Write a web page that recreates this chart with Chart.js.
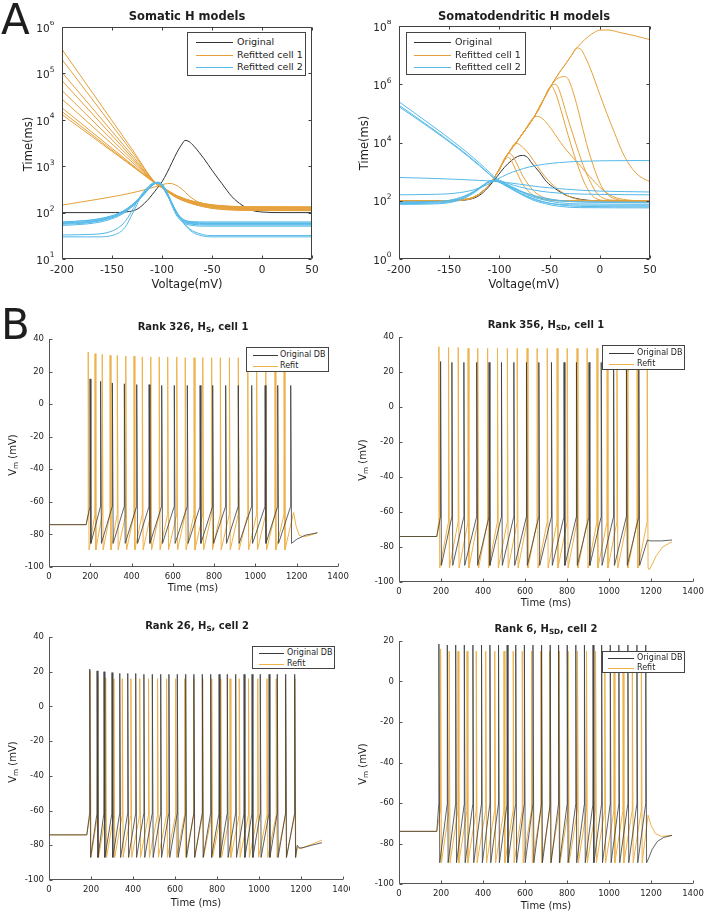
<!DOCTYPE html>
<html>
<head>
<meta charset="utf-8">
<script src="https://cdn.jsdelivr.net/npm/chart.js@4.4.0/dist/chart.umd.min.js"></script>
<style>
  body { margin: 0; background: #fff; }
  #page { position: relative; width: 710px; height: 918px; overflow: hidden;
          font-family: "DejaVu Sans", sans-serif; color: #1e1e1e; background: #fff; }
  canvas { position: absolute; }
  .t { position: absolute; white-space: nowrap; transform: translate(-50%, -50%); line-height: 1; }
  .rot { transform: translate(-50%, -50%) rotate(-90deg); }
  .b { font-weight: bold; }
  .letter { position: absolute; font-size: 42px; line-height: 1; }
  sub { font-size: 0.72em; vertical-align: -0.3em; line-height: 0; }
  .leg { position: absolute; border: 1px solid #444; background: #fff; box-sizing: border-box; }
  .leg div { position: absolute; white-space: nowrap; transform: translateY(-50%); line-height: 1; }
  .leg span { position: absolute; height: 0; }
</style>
</head>
<body>
<div id="page"></div>
<script>
// ---------- A: time constants (ms) vs voltage (mV) ----------
const voltTicks = [-200, -150, -100, -50, 0, 50];
const somaticDecades = [1e1, 1e2, 1e3, 1e4, 1e5, 1e6];
const sdDecades = [1e0, 1e2, 1e4, 1e6, 1e8];
const seriesNamesA = ["Original", "Refitted cell 1", "Refitted cell 2"];

const somaticOriginal = [[-200,100],[-150,100],[-135,104],[-125,118],[-115,180],[-105,330],[-100,460],[-95,720],[-90,1200],[-85,2000],[-80,3000],[-77,3600],[-73,3400],[-68,2700],[-63,2000],[-58,1450],[-50,820],[-40,420],[-30,220],[-20,145],[-10,112],[0,103],[20,100],[50,100]];

const somaticCell1 = [
  [[-200,3.3e5],[-130,2330],[-106,430],[-100,360],[-92,280],[-85,232],[-75,192],[-65,168],[-50,148],[-35,139],[-15,133],[50,132]],
  [[-200,2.0e5],[-130,2050],[-106,430],[-100,355],[-92,275],[-85,226],[-75,188],[-65,162],[-50,141],[-35,132],[-15,127],[50,126]],
  [[-200,1.05e5],[-130,1740],[-106,425],[-100,350],[-92,268],[-85,220],[-75,182],[-65,157],[-50,135],[-35,126],[-15,121],[50,120]],
  [[-200,7.0e4],[-130,1550],[-106,420],[-100,345],[-92,262],[-85,214],[-75,176],[-65,151],[-50,130],[-35,121],[-15,116],[50,115]],
  [[-200,4.3e4],[-130,1390],[-106,430],[-100,350],[-92,262],[-85,210],[-75,171],[-65,146],[-50,126],[-35,117],[-15,113],[50,112]],
  [[-200,2.8e4],[-130,1230],[-106,425],[-100,360],[-92,280],[-85,230],[-75,190],[-65,166],[-50,145],[-35,136],[-15,131],[50,130]],
  [[-200,1.8e4],[-130,1090],[-106,420],[-100,350],[-92,268],[-85,218],[-75,179],[-65,154],[-50,133],[-35,124],[-15,119],[50,118]],
  [[-200,1.5e4],[-130,1035],[-106,415],[-100,340],[-92,256],[-85,206],[-75,168],[-65,144],[-50,123],[-35,115],[-15,111],[50,110]],
  [[-200,1.3e4],[-130,1010],[-106,420],[-100,355],[-92,272],[-85,224],[-75,184],[-65,159],[-50,138],[-35,129],[-15,125],[50,124]],
  [[-200,145],[-170,185],[-140,240],[-120,300],[-105,370],[-97,415],[-92,425],[-87,400],[-80,320],[-73,230],[-65,175],[-55,150],[-40,138],[-20,133],[50,132]]
];

const somaticCell2 = [
  [[-200,63],[-175,68],[-155,80],[-140,105],[-128,160],[-118,260],[-110,390],[-104,445],[-99,380],[-94,240],[-89,140],[-84,90],[-78,70],[-70,64],[-55,63],[50,63]],
  [[-200,60],[-175,64],[-155,76],[-140,100],[-128,150],[-118,250],[-110,380],[-104,440],[-99,370],[-94,230],[-89,132],[-84,85],[-78,66],[-70,60],[-55,58],[50,58]],
  [[-200,56],[-175,60],[-155,72],[-140,96],[-128,150],[-118,255],[-110,390],[-104,450],[-99,385],[-94,245],[-89,135],[-84,84],[-78,64],[-70,58],[-55,56],[50,56]],
  [[-200,53],[-175,57],[-155,68],[-140,92],[-128,145],[-118,245],[-110,375],[-105,430],[-100,390],[-95,260],[-90,150],[-85,92],[-78,64],[-70,56],[-55,54],[50,54]],
  [[-200,58],[-175,62],[-155,74],[-140,98],[-128,152],[-118,258],[-110,395],[-105,440],[-100,395],[-95,255],[-90,140],[-85,84],[-78,60],[-70,53],[-55,51],[50,51]],
  [[-200,62],[-175,67],[-155,79],[-140,104],[-128,158],[-118,262],[-110,400],[-104,450],[-99,390],[-94,250],[-89,145],[-84,92],[-78,70],[-70,62],[-55,60],[50,60]],
  [[-200,33],[-170,34],[-150,40],[-138,60],[-130,110],[-122,220],[-114,360],[-107,450],[-102,410],[-96,260],[-89,140],[-81,72],[-72,44],[-62,35],[-52,32],[50,32]],
  [[-200,30],[-165,30],[-148,33],[-137,48],[-129,100],[-121,220],[-113,365],[-106,440],[-101,400],[-95,250],[-88,130],[-80,66],[-71,40],[-61,32],[-50,30],[50,30]]
];

const sdOriginal = [[-200,100],[-150,100],[-135,105],[-125,125],[-118,170],[-110,320],[-102,700],[-95,1400],[-88,2400],[-82,3300],[-77,3600],[-72,3100],[-68,2000],[-60,950],[-53,450],[-45,270],[-36,170],[-25,123],[-12,104],[0,100],[50,100]];

// shared rising flank of the refitted cell 1 curves, then each curve's own fall
const sdCell1Rise = [[-200,100],[-160,100],[-140,106],[-130,118],[-125,135],[-120,170],[-115,240],[-110,360],[-105,640],[-100,1200],[-94,3000],[-85,8300],[-75,2.5e4],[-66,7e4],[-57,2.6e5],[-48,9.5e5],[-40,2.6e6],[-34,5e6],[-28,1e7],[-23,1.75e7],[-15,3.4e7],[-8,5.3e7]];
const sdCell1Peel = [-100, -100, -94, -75, -66, -57, -48, -28, -8];
const sdCell1Fall = [
  [[-96,2100],[-93,2900],[-91,3100],[-89,2700],[-86,1700],[-82,850],[-77,380],[-70,195],[-62,130],[-53,107],[-40,99],[50,96]],
  [[-95,2800],[-92,3900],[-90,4200],[-87,3500],[-83,2000],[-79,1000],[-74,500],[-67,240],[-59,145],[-50,112],[-38,102],[50,99]],
  [[-89,5600],[-86,8300],[-84,9300],[-81,8900],[-76,6500],[-70,3800],[-62,1500],[-55,700],[-46,330],[-36,180],[-27,125],[-18,106],[0,98],[50,96]],
  [[-70,4.8e4],[-66,7.2e4],[-63,7.9e4],[-59,7.3e4],[-54,5.2e4],[-48,2.8e4],[-36,7200],[-22,2000],[-10,680],[0,290],[13,140],[27,107],[50,98]],
  [[-60,1.5e5],[-55,3.5e5],[-52,6e5],[-50,7.8e5],[-48,8.5e5],[-46,7e5],[-43,4e5],[-39,1.4e5],[-34,3.5e4],[-29,9000],[-24,2600],[-19,850],[-14,330],[-9,170],[-4,120],[5,102],[50,97]],
  [[-51,6.5e5],[-48,9e5],[-45,1.0e6],[-42,8.5e5],[-38,3.5e5],[-33,9e4],[-27,2e4],[-21,4500],[-15,1200],[-9,420],[-4,200],[2,130],[12,105],[50,98]],
  [[-44,1.4e6],[-39,1.75e6],[-35,1.85e6],[-31,1.4e6],[-27,6e5],[-22,1.5e5],[-17,3e4],[-12,6500],[-7,1800],[-2,600],[3,260],[9,150],[18,108],[30,100],[50,98]],
  [[-23,1.75e7],[-19,1.6e7],[-14,8e6],[-8,2.6e6],[0,4.5e5],[7,1e5],[15,2e4],[23,4300],[32,1300],[40,680],[50,450]],
  [[0,7.2e7],[8,7.3e7],[20,6e7],[35,4.6e7],[50,3.4e7]]
];

const sdCell2 = [
  [[-200,2.5e5],[-170,4.5e4],[-140,7500],[-120,2000],[-110,950],[-102,560],[-92,400],[-80,300],[-65,230],[-50,195],[-30,175],[0,165],[50,160]],
  [[-200,1.9e5],[-170,3.6e4],[-140,6200],[-120,1700],[-110,820],[-102,500],[-92,330],[-80,220],[-65,150],[-50,115],[-30,95],[0,88],[50,86]],
  [[-200,1.7e5],[-170,3.3e4],[-140,5800],[-120,1600],[-110,800],[-102,480],[-92,300],[-80,180],[-65,110],[-50,82],[-30,72],[0,70],[50,70]],
  [[-200,80],[-170,82],[-150,92],[-135,130],[-125,200],[-116,330],[-108,480],[-102,470],[-95,380],[-88,280],[-78,180],[-68,125],[-55,90],[-40,72],[-20,64],[50,62]],
  [[-200,86],[-170,88],[-150,98],[-135,138],[-125,210],[-116,340],[-108,470],[-102,465],[-95,390],[-88,300],[-78,200],[-68,140],[-55,105],[-40,85],[-20,78],[50,76]],
  [[-200,75],[-170,77],[-150,86],[-135,122],[-125,190],[-116,320],[-108,460],[-102,450],[-95,360],[-88,260],[-78,165],[-68,110],[-55,80],[-40,64],[-20,58],[50,57]],
  [[-200,92],[-170,94],[-150,104],[-135,145],[-125,215],[-116,350],[-108,500],[-102,490],[-95,400],[-88,310],[-78,210],[-68,150],[-55,115],[-40,98],[-20,92],[50,90]],
  [[-200,160],[-170,165],[-145,180],[-125,240],[-112,360],[-102,550],[-92,820],[-82,1100],[-70,1450],[-55,1800],[-40,2050],[-20,2250],[0,2350],[50,2400]],
  [[-200,630],[-170,590],[-140,540],[-120,500],[-100,450],[-80,370],[-60,300],[-40,260],[-20,230],[0,215],[50,200]]
];

// ---------- B: membrane potential traces ----------
const timeTicks = [0, 200, 400, 600, 800, 1000, 1200, 1400];
const vmTicks40 = [-100, -80, -60, -40, -20, 0, 20, 40];
const vmTicks20 = [-100, -80, -60, -40, -20, 0, 20];
const seriesNamesB = ["Original DB", "Refit"];
const restPotential = -74;
const stimulus = [180, 1180];

// spike times (ms), spike peaks (mV), [trough, threshold] (mV), after-stimulus points
const b1OrigTimes = [199,250,307,365,425,485,546,607,670,732,793,856,917,982,1047,1108,1171];
const b1OrigPeaks = [15.5,14,13,12.5,12,12,11.5,11.5,11.5,11.5,11.5,11.5,11.5,11.5,11.5,11.5,11.5];
const b1OrigLevels = [-85.5, -63];
const b1OrigTail = [[1200,-83],[1240,-80.5],[1300,-79]];
const b1FitTimes = [190,223,258,296,331,372,412,452,493,534,575,619,660,703,745,788,830,874,917,963,1006,1050,1095,1139];
const b1FitPeaks = [32,31,30.5,30,30,29.5,29.5,29,29,29,29,29,28.5,28.5,28.5,28.5,28.5,28.5,28.5,29,29,29,29,29];
const b1FitLevels = [-89.5, -68];
const b1FitTail = [[1185,-66.5],[1197,-75],[1212,-80.5],[1232,-81.5],[1265,-80.5],[1300,-79]];

const b2OrigTimes = [198,252,309,370,429,488,547,607,666,726,786,845,905,963,1022,1083,1142];
const b2OrigPeaks = [26,25.5,25.5,25.5,25.5,25.5,25.5,25.5,25.5,25.5,25.5,25.5,25.5,25.5,25.5,25.5,25.5];
const b2OrigLevels = [-90.5, -63];
const b2OrigTail = [[1183,-76],[1195,-76.5],[1250,-76.5],[1300,-76]];
const b2FitTimes = [190,236,282,329,375,422,469,516,563,610,658,706,753,801,848,896,943,991,1038,1086,1134,1182];
const b2FitPeaks = [34.5,34,34,33.5,33.5,33.5,33.5,33.5,33.5,33.5,33.5,33.5,33.5,33.5,33.5,33.5,33.5,33.5,33.5,33.5,33.5,33.5];
const b2FitLevels = [-92, -66];
const b2FitTail = [[1192,-93],[1205,-90],[1225,-85],[1255,-80],[1300,-77]];

const b3OrigTimes = [194,229,262,300,337,375,413,452,492,532,571,611,651,690,730,770,810,849,889,929,967,1006,1048,1087,1127,1170];
const b3OrigPeaks = [21.5,20.5,20,19.5,19,19,19,18.5,18.5,18.5,18.5,18.5,18.5,18.5,18.5,18.5,18.5,18.5,18.5,18.5,18.5,18.5,18.5,18.5,18.5,18.5];
const b3OrigLevels = [-87, -62];
const b3OrigTail = [[1182,-80],[1192,-81.5],[1205,-81.5],[1250,-80],[1300,-78.5]];
const b3FitTimes = [196,232,270,309,349,390,432,474,517,560,603,646,689,732,775,818,862,906,950,994,1038,1082,1126,1171];
const b3FitPeaks = [20.5,17,16.5,16,16,16,16,16,16,16,16,16,16,16,16,16,16,16,16,16,16,16,16,16];
const b3FitLevels = [-87, -63];
const b3FitTail = [[1183,-81],[1195,-82],[1240,-80],[1300,-77]];

const b4OrigTimes = [190,230,270,311,352,393,433,474,515,556,597,638,679,720,760,801,842,883,924,965,1006,1047,1090,1133,1175];
const b4OrigPeaks = [18.5,18,18,18,18,18,18,18,18,18,18,18,18,18,18,18,18,18,18,18,18,18,18,18,18];
const b4OrigLevels = [-89.5, -61];
const b4OrigTail = [[1190,-87],[1205,-83],[1230,-79],[1260,-77],[1300,-76]];
const b4FitTimes = [198,239,281,324,368,413,456,500,544,587,631,675,718,763,806,850,893,936,980,1024,1067,1111,1154];
const b4FitPeaks = [16,15,15,15,15,15,15,15,15,15,15,15,15,15,15,15,15,15,15,15,15,15,15];
const b4FitLevels = [-89.5, -64];
const b4FitTail = [[1186,-66],[1200,-71],[1220,-75],[1250,-76.5],[1300,-76]];

// ---------- drawing ----------
const page = document.getElementById("page");
Chart.defaults.font.family = '"DejaVu Sans", sans-serif';

const BLACK = "#333333", ORANGE = "#E5A03A", BLUE = "#55B9E8";
const ORANGE_B = "#EDB24A", BLACK_B = "#3a3a3a";

// axis lines, inward ticks and 10^n labels, MATLAB style
const frame = {
  id: "frame",
  afterDatasetsDraw(chart, args, o) {
    if (!o || !o.on) return;
    const { ctx, chartArea: a, scales: { x, y } } = chart;
    const L = Math.round(a.left) + 0.5, B = Math.round(a.bottom) - 0.5;
    const R = Math.round(a.right) - 0.5, T = Math.round(a.top) + 0.5;
    ctx.save();
    ctx.strokeStyle = o.color;
    ctx.lineWidth = 1;
    ctx.beginPath();
    ctx.moveTo(L, o.box ? T : a.top); ctx.lineTo(L, B); ctx.lineTo(o.box ? R : a.right, B);
    if (o.box) { ctx.moveTo(L, T); ctx.lineTo(R, T); ctx.lineTo(R, B); }
    x.ticks.forEach(t => {
      const px = Math.round(x.getPixelForValue(t.value)) + 0.5;
      ctx.moveTo(px, B); ctx.lineTo(px, B - o.len);
      if (o.box) { ctx.moveTo(px, T); ctx.lineTo(px, T + o.len); }
    });
    y.ticks.forEach(t => {
      const py = Math.round(y.getPixelForValue(t.value)) + 0.5;
      ctx.moveTo(L, py); ctx.lineTo(L + o.len, py);
      if (o.box) { ctx.moveTo(R, py); ctx.lineTo(R - o.len, py); }
    });
    ctx.stroke();
    if (o.logLabels) {
      ctx.fillStyle = "#262626";
      ctx.textAlign = "right";
      ctx.textBaseline = "middle";
      y.ticks.forEach(t => {
        const py = y.getPixelForValue(t.value);
        const e = String(Math.round(Math.log10(t.value)));
        ctx.font = '7.5px "DejaVu Sans"';
        const ew = ctx.measureText(e).width;
        const xr = a.left - 7.5;
        ctx.fillText(e, xr, py - 3.5);
        ctx.font = '10.5px "DejaVu Sans"';
        ctx.fillText("10", xr - ew, py + 2);
      });
    }
    ctx.restore();
  }
};
Chart.register(frame);

function pts(list) { return list.map(([x, y]) => ({ x, y })); }

function spikeTrace(times, peaks, levels, tail) {
  const [trough, thr] = levels;
  const out = [{ x: 0, y: restPotential }, { x: stimulus[0], y: restPotential }];
  times.forEach((t, i) => {
    out.push({ x: t - 1, y: thr }, { x: t, y: peaks[i] }, { x: t + 4, y: trough });
  });
  tail.forEach(([x, y]) => out.push({ x, y }));
  return out;
}

function line(data, color, width, order, smooth) {
  return {
    data, borderColor: color, borderWidth: width, pointRadius: 0, fill: false, order,
    tension: 0, cubicInterpolationMode: smooth ? "monotone" : "default"
  };
}

function axis(type, min, max, values, size, gap, fixed, isX) {
  return {
    type, min, max,
    afterBuildTicks: s => { s.ticks = values.map(value => ({ value })); },
    ticks: { display: type !== "logarithmic", autoSkip: false, maxRotation: 0, minRotation: 0,
             padding: gap, color: "#262626", font: { size }, callback: v => String(v) },
    grid: { display: false, drawTicks: false },
    border: { display: false },
    afterFit: s => {
      if (isX) s.height = fixed; else s.width = fixed;
      s.paddingLeft = 0; s.paddingRight = 0; s.paddingTop = 0; s.paddingBottom = 0;
    }
  };
}

function plot(box, m, xAxis, yAxis, datasets, frameOpts) {
  const c = document.createElement("canvas");
  const w = box.r - box.l + m.l + m.r, h = box.b - box.t + m.t + m.b;
  c.width = w; c.height = h;
  c.style.left = (box.l - m.l) + "px"; c.style.top = (box.t - m.t) + "px";
  c.style.width = w + "px"; c.style.height = h + "px";
  page.appendChild(c);
  new Chart(c, {
    type: "line",
    data: { datasets },
    options: {
      responsive: false, animation: false, devicePixelRatio: 1, events: [],
      layout: { padding: { top: m.t, right: m.r, left: 0, bottom: 0 } },
      plugins: { legend: { display: false }, tooltip: { enabled: false }, frame: frameOpts },
      scales: { x: xAxis, y: yAxis }
    }
  });
}

function text(html, x, y, size, cls) {
  const d = document.createElement("div");
  d.className = "t " + (cls || "");
  d.style.left = x + "px"; d.style.top = y + "px"; d.style.fontSize = size + "px";
  d.innerHTML = html;
  page.appendChild(d);
}

function legend(l, t, w, h, names, colors, rows, lineX, lineW, textX, size, width) {
  const box = document.createElement("div");
  box.className = "leg";
  Object.assign(box.style, { left: l + "px", top: t + "px", width: w + "px", height: h + "px", fontSize: size + "px" });
  names.forEach((name, i) => {
    const s = document.createElement("span");
    s.style.cssText = `left:${lineX}px;top:${rows[i]}px;width:${lineW}px;border-top:${width[i]}px solid ${colors[i]}`;
    const d = document.createElement("div");
    d.textContent = name;
    d.style.cssText = `left:${textX}px;top:${rows[i]}px`;
    box.append(s, d);
  });
  page.appendChild(box);
}

// ---- panel A ----
const mA = { l: 60, t: 6, r: 14, b: 22 };
const frameA = { on: true, box: true, len: 3, color: "#404040", logLabels: true };

plot({ l: 62, t: 27, r: 312, b: 259 }, mA,
  axis("linear", -200, 50, voltTicks, 10.5, 5, mA.b, true),
  axis("logarithmic", 10, 1e6, somaticDecades, 10.5, 0, mA.l, false),
  [
    ...somaticCell2.map(c => line(pts(c), BLUE, 1, 0, true)),
    ...somaticCell1.map(c => line(pts(c), ORANGE, 1, 1, true)),
    line(pts(somaticOriginal), BLACK, 1, 2, true)
  ], frameA);

const sdCell1 = sdCell1Fall.map((fall, i) => sdCell1Rise.filter(p => p[0] <= sdCell1Peel[i]).concat(fall));
plot({ l: 399, t: 26, r: 650, b: 259 }, mA,
  axis("linear", -200, 50, voltTicks, 10.5, 5, mA.b, true),
  axis("logarithmic", 1, 1e8, sdDecades, 10.5, 0, mA.l, false),
  [
    ...sdCell2.map(c => line(pts(c), BLUE, 1, 0, true)),
    ...sdCell1.map(c => line(pts(c), ORANGE, 1, 1, true)),
    line(pts(sdOriginal), BLACK, 1, 2, true)
  ], frameA);

// ---- panel B ----
const mB = { l: 45, t: 6, r: 14, b: 18 };
const frameB = { on: true, box: false, len: 3, color: "#555555" };
const bTraces = [
  { box: { l: 49, t: 339, r: 338, b: 567 }, ticks: vmTicks40, max: 40,
    orig: spikeTrace(b1OrigTimes, b1OrigPeaks, b1OrigLevels, b1OrigTail),
    fit: spikeTrace(b1FitTimes, b1FitPeaks, b1FitLevels, b1FitTail), r: 14 },
  { box: { l: 399, t: 337, r: 693, b: 582 }, ticks: vmTicks40, max: 40,
    orig: spikeTrace(b2OrigTimes, b2OrigPeaks, b2OrigLevels, b2OrigTail),
    fit: spikeTrace(b2FitTimes, b2FitPeaks, b2FitLevels, b2FitTail), r: 14 },
  { box: { l: 49, t: 637, r: 343, b: 880 }, ticks: vmTicks40, max: 40,
    orig: spikeTrace(b3OrigTimes, b3OrigPeaks, b3OrigLevels, b3OrigTail),
    fit: spikeTrace(b3FitTimes, b3FitPeaks, b3FitLevels, b3FitTail), r: 7 },
  { box: { l: 399, t: 641, r: 693, b: 884 }, ticks: vmTicks20, max: 20,
    orig: spikeTrace(b4OrigTimes, b4OrigPeaks, b4OrigLevels, b4OrigTail),
    fit: spikeTrace(b4FitTimes, b4FitPeaks, b4FitLevels, b4FitTail), r: 14 }
];
bTraces.forEach(p => {
  const m = Object.assign({}, mB, { r: p.r });
  plot(p.box, m,
    axis("linear", 0, 1400, timeTicks, 8.5, 5, m.b, true),
    axis("linear", -100, p.max, p.ticks, 8.5, 5, m.l, false),
    [line(p.orig, BLACK_B, 0.8, 0, false), line(p.fit, ORANGE_B, 1, 1, false)],
    frameB);
});

// ---- text ----
const letterA = document.createElement("div");
letterA.className = "letter"; letterA.style.left = "1px"; letterA.style.top = "-1px"; letterA.textContent = "A";
const letterB = document.createElement("div");
letterB.className = "letter"; letterB.style.left = "1px"; letterB.style.top = "304px"; letterB.textContent = "B";
page.append(letterA, letterB);

text("Somatic H models", 187, 17, 11.5, "b");
text("Somatodendritic H models", 524, 17, 11.5, "b");
text("Voltage(mV)", 187, 285, 11.5);
text("Voltage(mV)", 524, 285, 11.5);
text("Time(ms)", 29, 144, 11.5, "rot");
text("Time(ms)", 365, 143, 11.5, "rot");

text("Rank 326, H<sub>S</sub>, cell 1", 193, 327, 10, "b");
text("Rank 356, H<sub>SD</sub>, cell 1", 546, 325, 10, "b");
text("Rank 26, H<sub>S</sub>, cell 2", 197, 626, 10, "b");
text("Rank 6, H<sub>SD</sub>, cell 2", 546, 629, 10, "b");
[[13, 455], [363, 460], [13, 762], [363, 764]].forEach(([x, y]) => text("V<sub>m</sub> (mV)", x, y, 10, "rot"));
[[193, 588], [546, 603], [196, 903], [546, 906]].forEach(([x, y]) => text("Time (ms)", x, y, 10));

legend(187, 32, 119, 44, seriesNamesA, [BLACK, ORANGE, BLUE], [9, 21.5, 34], 8, 37, 49, 9.5, [1, 1, 1]);
legend(406, 32, 120, 43, seriesNamesA, [BLACK, ORANGE, BLUE], [9, 21.5, 34], 7, 37, 48, 9.5, [1, 1, 1]);
legend(246, 347, 83, 25, seriesNamesB, [BLACK_B, ORANGE_B], [6.5, 17.5], 6, 25, 33, 8, [1, 1.5]);
legend(602, 345, 83, 25, seriesNamesB, [BLACK_B, ORANGE_B], [6.5, 17.5], 6, 25, 34, 8, [1, 1.5]);
legend(252, 646, 83, 23, seriesNamesB, [BLACK_B, ORANGE_B], [6, 16.5], 5.5, 25, 34, 8, [1, 1.5]);
legend(602, 651, 83, 22, seriesNamesB, [BLACK_B, ORANGE_B], [5.5, 15.5], 5, 26, 34, 8, [1, 1.5]);
</script>
</body>
</html>
